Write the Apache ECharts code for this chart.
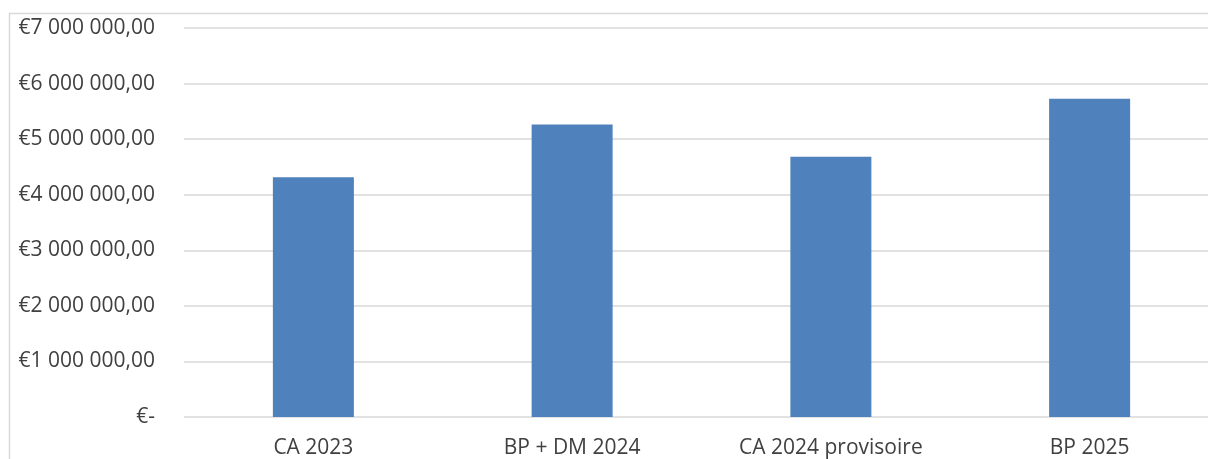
<!DOCTYPE html>
<html>
<head>
<meta charset="utf-8">
<script src="https://cdn.jsdelivr.net/npm/echarts@6/dist/echarts.min.js"></script>
<style>
  html, body { margin: 0; padding: 0; background: #fff; overflow: hidden; }
  #chart { width: 1220px; height: 459px; }
</style>
</head>
<body>
<div id="chart"></div>
<script>
const categories = ['CA 2023', 'BP + DM 2024', 'CA 2024 provisoire', 'BP 2025'];
const values = [4316000, 5262000, 4684000, 5727000];
const yMax = 7000000;
const yStep = 1000000;

function euro(v) {
  if (v === 0) return '€-';
  let s = Math.round(v).toString().replace(/\B(?=(\d{3})+(?!\d))/g, ' ');
  return '€' + s + ',00';
}

let chart = echarts.init(document.getElementById('chart'));
chart.setOption({
  animation: false,
  textStyle: { fontFamily: 'Open Sans' },
  graphic: [{
    type: 'rect',
    shape: { x: 9.5, y: 13.5, width: 1400, height: 600 },
    style: { fill: 'none', stroke: '#d9d9d9', lineWidth: 1.5 },
    z: -1
  }],
  grid: { left: 184, top: 28, right: 1, height: 391 },
  xAxis: {
    type: 'category',
    data: categories,
    axisLine: { show: false },
    axisTick: { show: false },
    axisLabel: { color: '#404040', fontSize: 21, margin: 21 }
  },
  yAxis: {
    type: 'value',
    min: 0,
    max: yMax,
    interval: yStep,
    axisLine: { show: false },
    axisTick: { show: false },
    splitLine: { lineStyle: { color: '#d9d9d9', width: 1.5 } },
    axisLabel: { color: '#404040', fontSize: 21, margin: 29, formatter: euro }
  },
  series: [{
    type: 'bar',
    data: values,
    barWidth: 81,
    itemStyle: { color: '#4f81bd' }
  }]
});
</script>
</body>
</html>
